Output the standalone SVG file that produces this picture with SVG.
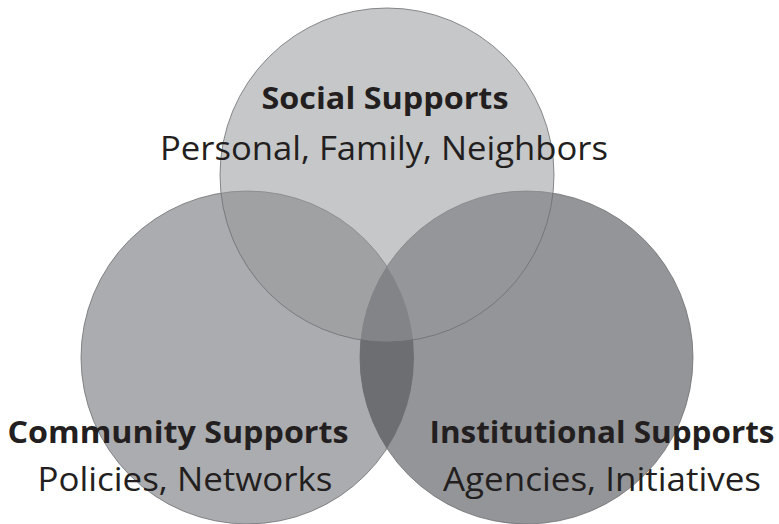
<svg xmlns="http://www.w3.org/2000/svg" width="779" height="524" viewBox="0 0 779 524">
  <style>
    .circle { stroke: #6d6e71; stroke-width: 0.8; }
    .title { font-family: "Open Sans", Lato, "Liberation Sans", sans-serif; font-weight: bold; font-size: 31px; fill: #231f20; text-anchor: middle; }
    .sub { font-family: "Open Sans", Lato, "Liberation Sans", sans-serif; font-weight: normal; font-size: 33px; fill: #231f20; text-anchor: middle; }
  </style>
  <defs>
    <clipPath id="clipLeft">
      <circle cx="247.5" cy="357.5" r="166.5"/>
    </clipPath>
  </defs>
  <rect width="779" height="524" fill="#ffffff"/>
  <g id="community">
    <circle class="circle" cx="247.5" cy="357.5" r="166.5" fill="#abacaf"/>
  </g>
  <g id="institutional">
    <circle class="circle" cx="526.5" cy="357.5" r="166.5" fill="#939598"/>
    <circle cx="526.5" cy="357.5" r="166.5" fill="#6d6e71" clip-path="url(#clipLeft)"/>
    <path d="M387,267.4 A166.5,166.5 0 0 0 387,447.6" fill="none" stroke="#6d6e71" stroke-width="0.8"/>
  </g>
  <g id="social">
    <circle class="circle" cx="387" cy="175" r="167" fill="#96979a" fill-opacity="0.54"/>
    <text class="title" x="385" y="109" textLength="247" lengthAdjust="spacingAndGlyphs">Social Supports</text>
    <text class="sub" x="384" y="160" textLength="448" lengthAdjust="spacingAndGlyphs">Personal, Family, Neighbors</text>
  </g>
  <g id="community-labels">
    <text class="title" x="178" y="443" textLength="341" lengthAdjust="spacingAndGlyphs">Community Supports</text>
    <text class="sub" x="185" y="491" textLength="295" lengthAdjust="spacingAndGlyphs">Policies, Networks</text>
  </g>
  <g id="institutional-labels">
    <text class="title" x="602" y="443" textLength="345" lengthAdjust="spacingAndGlyphs">Institutional Supports</text>
    <text class="sub" x="602" y="491" textLength="318" lengthAdjust="spacingAndGlyphs">Agencies, Initiatives</text>
  </g>
  <g id="connectors"/>
</svg>
